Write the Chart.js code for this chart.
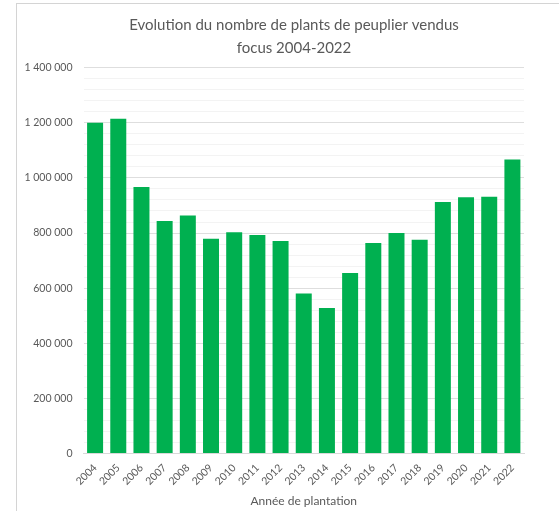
<!DOCTYPE html>
<html lang="fr">
<head>
<meta charset="utf-8">
<script src="https://cdn.jsdelivr.net/npm/chart.js@4"></script>
<style>
    html, body { margin: 0; padding: 0; background: #fff; }
    #wrap { position: relative; width: 559px; height: 511px; overflow: hidden; }
    #frame { position: absolute; left: 16px; top: 3px; width: 700px; height: 700px; border: 1px solid #d4d4d4; }
    #plantsChart { position: absolute; left: 0; top: 0; }
</style>
</head>
<body>
<div id="wrap">
    <div id="frame"></div>
    <canvas id="plantsChart" width="559" height="511"></canvas>
</div>
<script>
// Années de plantation
const years = ['2004', '2005', '2006', '2007', '2008', '2009', '2010', '2011', '2012', '2013',
    '2014', '2015', '2016', '2017', '2018', '2019', '2020', '2021', '2022'];

// Nombre de plants de peuplier vendus
const plantsSold = [1200000, 1215000, 967000, 844000, 864000, 779000, 803000, 793000, 771000, 581000,
    528000, 655000, 764000, 800000, 776000, 913000, 930000, 932000, 1067000];

const yMax = 1400000;
const yMinorStep = 40000;
const yMajorStep = 200000;

const titleLines = ['Evolution du nombre de plants de peuplier vendus', 'focus 2004-2022'];
const xAxisTitle = 'Année de plantation';

const fontFamily = 'Lato, "Open Sans", sans-serif';
const textGrey = '#595959';

const formatNumber = (v) => String(v).replace(/\B(?=(\d{3})+(?!\d))/g, ' ');

// titre centré sur le cadre du graphique, pas sur la zone de tracé
const chartTitle = {
    id: 'chartTitle',
    afterDraw(chart) {
        const c = chart.ctx;
        c.save();
        c.fillStyle = textGrey;
        c.font = `15px ${fontFamily}`;
        c.textAlign = 'center';
        c.textBaseline = 'alphabetic';
        c.fillText(titleLines[0], 294, 30);
        c.fillText(titleLines[1], 294, 52.5);
        c.restore();
    }
};

document.addEventListener('DOMContentLoaded', () => {
    const ctx = document.getElementById('plantsChart');
    new Chart(ctx, {
        type: 'bar',
        data: {
            labels: years,
            datasets: [{
                data: plantsSold,
                backgroundColor: '#00B050',
                barPercentage: 0.69,
                categoryPercentage: 1
            }]
        },
        plugins: [chartTitle],
        options: {
            responsive: false,
            animation: false,
            layout: {
                padding: { left: 0, right: 35, top: 67.7, bottom: 0 }
            },
            plugins: {
                legend: { display: false },
                tooltip: { enabled: false },
                title: { display: false }
            },
            scales: {
                y: {
                    min: 0,
                    max: yMax,
                    afterFit: (scale) => { scale.width = 83.5; },
                    border: { display: false },
                    grid: {
                        drawTicks: false,
                        color: (c) => (c.tick.value % yMajorStep === 0 ? '#dedede' : '#f3f3f3')
                    },
                    ticks: {
                        stepSize: yMinorStep,
                        autoSkip: false,
                        padding: 11,
                        color: textGrey,
                        font: { family: fontFamily, size: 10.5 },
                        callback: (v) => (v % yMajorStep === 0 ? formatNumber(v) : '')
                    }
                },
                x: {
                    afterFit: (scale) => { scale.height = 57.5; },
                    border: { display: true, color: '#d9d9d9' },
                    grid: { display: false },
                    ticks: {
                        minRotation: 45,
                        maxRotation: 45,
                        autoSkip: false,
                        padding: 0,
                        color: textGrey,
                        font: { family: fontFamily, size: 10.5 }
                    },
                    title: {
                        display: true,
                        text: xAxisTitle,
                        color: textGrey,
                        font: { family: fontFamily, size: 12 },
                        padding: { top: 0, bottom: 3 }
                    }
                }
            }
        }
    });
});
</script>
</body>
</html>
